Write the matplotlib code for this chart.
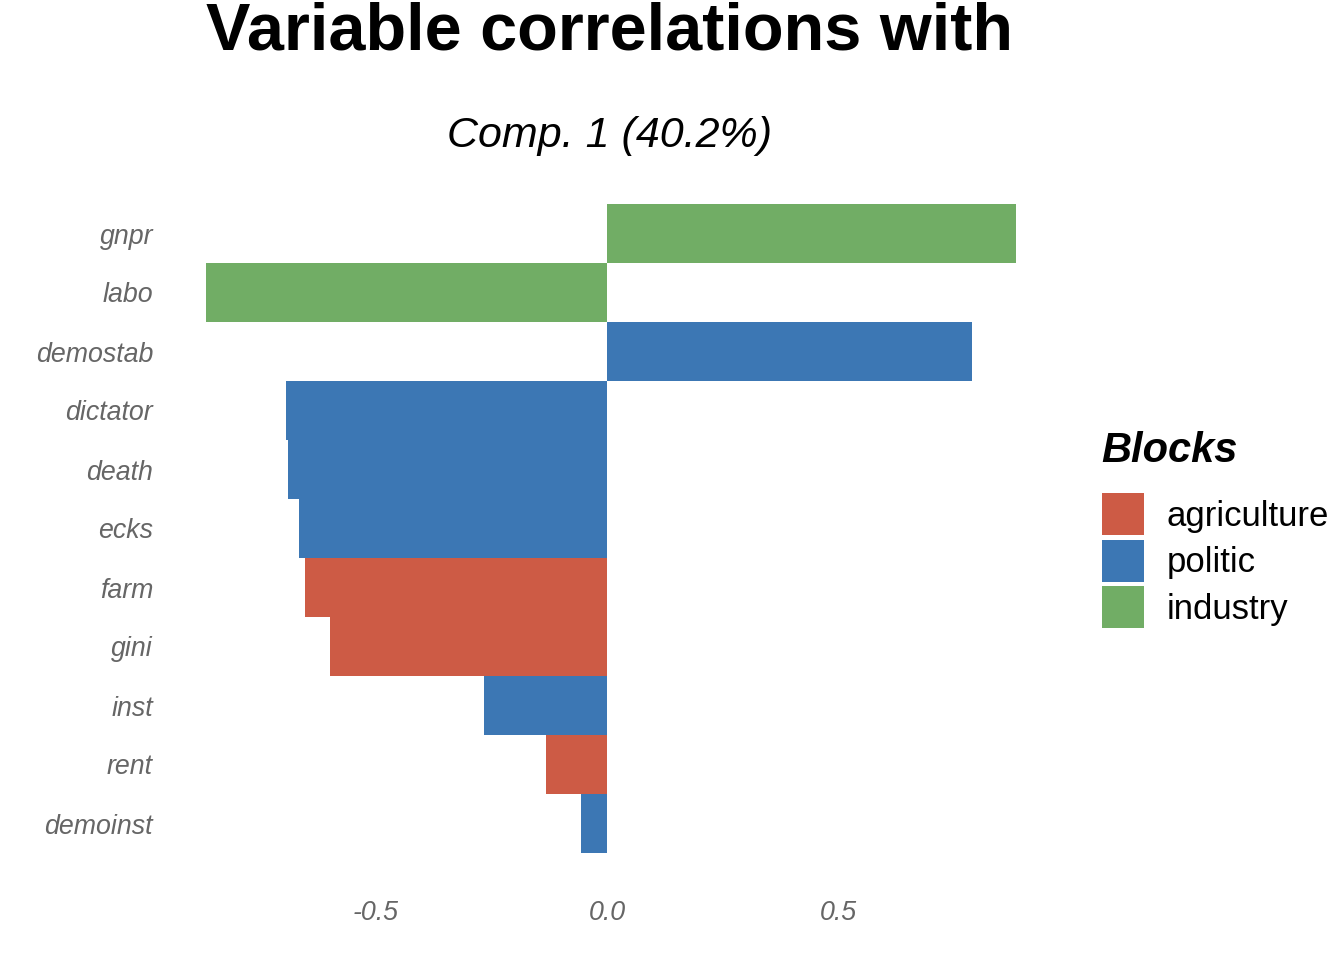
import matplotlib
matplotlib.use("Agg")
import matplotlib.pyplot as plt
from matplotlib.patches import Patch

plt.rcParams['font.family'] = ['Liberation Sans', 'DejaVu Sans']

variables = ["gnpr", "labo", "demostab", "dictator", "death", "ecks",
             "farm", "gini", "inst", "rent", "demoinst"]
values = [0.885, -0.868, 0.790, -0.695, -0.690, -0.667,
          -0.654, -0.600, -0.266, -0.132, -0.056]
blocks = ["industry", "industry", "politic", "politic", "politic", "politic",
          "agriculture", "agriculture", "politic", "agriculture", "politic"]
block_order = ["agriculture", "politic", "industry"]
block_colors = {"agriculture": "#CD5B45", "politic": "#3C77B4", "industry": "#71AD65"}
x_ticks = [-0.5, 0.0, 0.5]

W, H = 1344, 960
fig = plt.figure(figsize=(W / 100, H / 100), dpi=100)
left_px, right_px, top_px, bottom_px = 160, 1060, 198.1, 858.9
ax = fig.add_axes([left_px / W, 1 - bottom_px / H,
                   (right_px - left_px) / W, (bottom_px - top_px) / H])

n = len(variables)
ypos = [n - 1 - i for i in range(n)]
cols = [block_colors[b] for b in blocks]
ax.barh(ypos, values, height=1.0, color=cols, linewidth=0)

ax.set_xlim(-0.9675, 0.9805)
ax.set_ylim(-0.6, n - 1 + 0.6)
ax.set_yticks(ypos)
ax.set_yticklabels(variables)
ax.set_xticks(x_ticks)
ax.set_xticklabels([f"{t:.1f}" for t in x_ticks])
for s in ax.spines.values():
    s.set_visible(False)
ax.tick_params(length=0, colors="#666666", labelsize=19.3)
ax.tick_params(axis="y", pad=5)
ax.tick_params(axis="x", pad=29.5)
for lab in ax.get_xticklabels() + ax.get_yticklabels():
    lab.set_fontstyle("italic")
    lab.set_color("#666666")

fig.text(610 / W, 1 - 50 / H, "Variable correlations with", ha="center",
         va="baseline", fontsize=48, fontweight="bold")
fig.text(610 / W, 1 - 136 / H, "Comp. 1 (40.2%)", ha="center",
         va="center", fontsize=31, fontstyle="italic")

fig.text(1101 / W, 1 - 451 / H, "Blocks", ha="left", va="center",
         fontsize=30, fontweight="bold", fontstyle="italic")

handles = [Patch(facecolor=block_colors[b], edgecolor="none", label=b)
           for b in block_order]
leg = fig.legend(handles=handles, loc="upper left",
                 bbox_to_anchor=(1102 / W, 1 - 493 / H), frameon=False,
                 fontsize=25, handlelength=1.2, handleheight=1.49,
                 labelspacing=0.13, handletextpad=0.66, borderaxespad=0,
                 borderpad=0)

fig.savefig("out.png", dpi=100)
